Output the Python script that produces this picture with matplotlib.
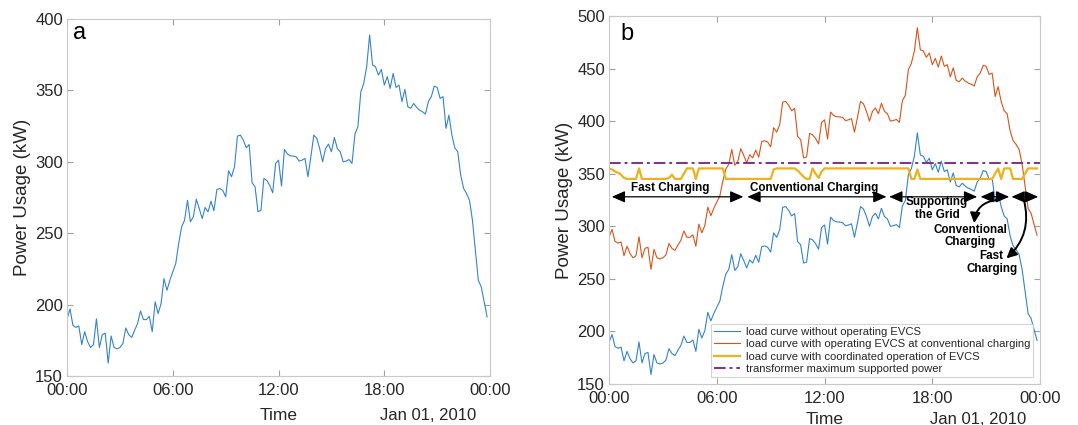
import numpy as np
import matplotlib
matplotlib.use("Agg")
import matplotlib.pyplot as plt

plt.rcParams['font.family'] = ['Liberation Sans', 'DejaVu Sans']

# 10-minute samples over one day (hours from midnight)
hours = np.arange(144) / 6.0

# load curve without operating EVCS (kW)
load_base = [
    190, 197, 185.5, 184, 185, 172, 181, 174, 170, 172,
    190, 170, 179, 180, 159, 178, 170, 169, 170, 172.7,
    183.6, 179, 177, 182, 186.7, 195.6, 189.5, 189.5, 191.8, 181,
    202, 193.7, 200.7, 218.2, 210, 217, 223, 228.7, 242.8, 254.4,
    259, 273, 258, 261.5, 273.8, 267.3, 260.3, 268, 265, 272.4,
    265.7, 280.6, 281.3, 280, 275.5, 293.7, 289.5, 296.5, 318, 318.7,
    315.2, 309.8, 312.1, 285.3, 282.5, 265, 266, 288.3, 287, 283.4,
    278.3, 298.8, 301.2, 283, 308.6, 305.4, 304.2, 304, 303.5, 300.5,
    301.2, 302.3, 289.5, 303.5, 318.7, 316.4, 309.3, 300, 309.3, 312.4,
    307, 317, 309.3, 307, 300, 300.5, 301.6, 298.8, 319.4, 324.5,
    349, 354.9, 366.6, 388.8, 367.8, 366.6, 360.7, 364.7, 353.7, 359.6,
    351.4, 361.9, 352.1, 353.7, 342.1, 350.7, 338.6, 337.4, 340.9, 338.1,
    336.2, 335, 333.4, 342.1, 345.6, 353, 352.1, 344.4, 345.6, 323.4,
    332.7, 318.7, 309.8, 307, 290.7, 281.3, 277.8, 273.1, 259.1, 238.1,
    217, 212.4, 201.9, 191.4,
]

# load curve with EVCS at conventional charging (kW)
load_conv = [
    290, 297, 285.5, 284, 285, 272, 281, 274, 270, 272,
    290, 270, 279, 280, 259, 278, 270, 269, 270, 272.7,
    283.6, 279, 277, 282, 286.7, 295.6, 289.5, 289.5, 291.8, 281,
    302, 293.7, 300.7, 318.2, 310, 317, 323, 328.7, 342.8, 354.4,
    359, 373, 358, 361.5, 373.8, 367.3, 360.3, 368, 365, 372.4,
    365.7, 380.6, 381.3, 380, 375.5, 393.7, 389.5, 396.5, 418, 418.7,
    415.2, 409.8, 412.1, 385.3, 382.5, 365, 366, 388.3, 387, 383.4,
    378.3, 398.8, 401.2, 383, 408.6, 405.4, 404.2, 404, 403.5, 400.5,
    401.2, 402.3, 389.5, 403.5, 418.7, 416.4, 409.3, 400, 409.3, 412.4,
    407, 417, 409.3, 407, 400, 400.5, 401.6, 398.8, 419.4, 424.5,
    449, 454.9, 466.6, 488.8, 467.8, 466.6, 460.7, 464.7, 453.7, 459.6,
    451.4, 461.9, 452.1, 453.7, 442.1, 450.7, 438.6, 437.4, 440.9, 438.1,
    436.2, 435, 433.4, 442.1, 445.6, 453, 452.1, 444.4, 445.6, 423.4,
    432.7, 418.7, 409.8, 407, 390.7, 381.3, 377.8, 373.1, 359.1, 338.1,
    317, 312.4, 301.9, 291.4,
]

# load curve with coordinated operation of EVCS (kW)
load_coord = [
    355, 354, 352, 351, 349, 346, 345, 345, 345, 345,
    355, 345, 345, 345, 345, 345, 345, 345, 345, 345,
    346, 349, 345, 345, 345, 350, 355, 355, 355, 345,
    355, 355, 355, 355, 355, 355, 355, 355, 355, 345,
    345, 345, 345, 345, 345, 345, 345, 345, 345, 345,
    345, 345, 345, 345, 345, 354, 355, 355, 355, 355,
    355, 355, 355, 353, 350, 347, 345, 345, 355, 350,
    346, 352, 355, 355, 355, 355, 355, 355, 355, 355,
    355, 355, 355, 355, 355, 355, 355, 355, 355, 355,
    355, 355, 355, 355, 355, 355, 355, 355, 355, 355,
    355, 345, 345, 354, 345, 345, 345, 345, 345, 345,
    345, 345, 345, 345, 345, 345, 345, 345, 345, 345,
    345, 345, 345, 345, 345, 345, 345, 345, 345, 350,
    355, 345, 355, 355, 355, 345, 345, 345, 345, 350,
    355, 355, 355, 355,
]

transformer_max = 360

xticks = [0, 6, 12, 18, 24]
xtick_labels = ['00:00', '06:00', '12:00', '18:00', '00:00']

# operating modes: (start h, end h)
mode_spans = [(0.15, 7.48), (7.7, 15.45), (15.6, 20.5), (20.69, 22.28), (22.41, 23.9)]

legend_labels = [
    'load curve without operating EVCS',
    'load curve with operating EVCS at conventional charging',
    'load curve with coordinated operation of EVCS',
    'transformer maximum supported power',
]

c_blue = '#3483cc'
c_orange = '#d95319'
c_yellow = '#edb120'
c_purple = '#7e2f8e'
frame_col = '#c8c8c8'
text_col = '#262626'


def style_axes(ax, ylim, yticks, below_pt):
    ax.set_xlim(0, 24)
    ax.set_ylim(*ylim)
    ax.set_xticks(xticks)
    ax.set_xticklabels(xtick_labels)
    ax.set_yticks(yticks)
    ax.tick_params(direction='in', top=True, right=True, length=4,
                   color='#a0a0a0', labelcolor=text_col, labelsize=12)
    ax.tick_params(axis='x', pad=5)
    ax.tick_params(axis='y', pad=3)
    for s in ax.spines.values():
        s.set_color(frame_col)
        s.set_linewidth(0.8)
    ax.set_ylabel('Power Usage (kW)', fontsize=13.5, color=text_col, labelpad=3)
    # x label and date stamp sit on the same line below the tick labels
    ax.annotate('Time', xy=(0.5, 0), xycoords='axes fraction',
                xytext=(0, -below_pt), textcoords='offset points',
                ha='center', va='center', fontsize=12.5, color=text_col)
    ax.annotate('Jan 01, 2010', xy=(1.0, 0), xycoords='axes fraction',
                xytext=(-10, -below_pt), textcoords='offset points',
                ha='right', va='center', fontsize=12, color=text_col)


fig = plt.figure(figsize=(10.78, 4.25), dpi=100)

# panel a
ax1 = fig.add_axes([0.0622, 0.1153, 0.3924, 0.84])
ax1.plot(hours, load_base, color=c_blue, lw=0.8)
style_axes(ax1, (150, 400), [150, 200, 250, 300, 350, 400], 28.5)
ax1.text(0.015, 0.944, 'a', transform=ax1.transAxes, fontsize=17,
         va='baseline', ha='left')

# panel b
ax2 = fig.add_axes([0.565, 0.0965, 0.3998, 0.866])
ax2.plot(hours, load_base, color=c_blue, lw=0.8, label=legend_labels[0])
ax2.plot(hours, load_conv, color=c_orange, lw=0.8, label=legend_labels[1])
ax2.plot(hours, load_coord, color=c_yellow, lw=1.6, label=legend_labels[2])
ax2.axhline(transformer_max, color=c_purple, lw=1.4, ls='-.', dashes=(6, 2, 1.5, 2),
            label=legend_labels[3])
style_axes(ax2, (150, 500), [150, 200, 250, 300, 350, 400, 450, 500], 25.5)
ax2.text(0.027, 0.935, 'b', transform=ax2.transAxes, fontsize=17,
         va='baseline', ha='left')

arrow_y = 328
for a, b in mode_spans:
    ax2.annotate('', xy=(b, arrow_y), xytext=(a, arrow_y),
                 arrowprops=dict(arrowstyle='<|-|>,head_width=0.35,head_length=0.8',
                                 color='black', lw=0.9, shrinkA=0, shrinkB=0))

tkw = dict(fontsize=8.4, fontweight='bold', ha='center', va='center', color='black',
           linespacing=1.05)
ax2.text(3.4, 336.5, 'Fast Charging', **tkw)
ax2.text(11.4, 336.5, 'Conventional Charging', **tkw)
ax2.text(18.27, 317, 'Supporting\nthe Grid', **tkw)
ax2.text(20.1, 290.5, 'Conventional\nCharging', **tkw)
ax2.text(21.3, 265.5, 'Fast\nCharging', **tkw)

ax2.annotate('', xy=(20.33, 303), xytext=(21.6, 325),
             arrowprops=dict(arrowstyle='-|>,head_width=0.3,head_length=0.6',
                             color='black', lw=1.4, connectionstyle='arc3,rad=0.4',
                             shrinkA=0, shrinkB=0))
ax2.annotate('', xy=(22.13, 269.5), xytext=(23.1, 325),
             arrowprops=dict(arrowstyle='-|>,head_width=0.3,head_length=0.6',
                             color='black', lw=1.4, connectionstyle='arc3,rad=-0.3',
                             shrinkA=0, shrinkB=0))

leg = ax2.legend(loc='lower right', fontsize=8.1, frameon=True, fancybox=False,
                 handlelength=2.3, labelspacing=0.2, borderpad=0.3,
                 borderaxespad=0.6, handletextpad=0.5)
leg.get_frame().set_edgecolor(frame_col)
leg.get_frame().set_linewidth(0.8)
for t in leg.get_texts():
    t.set_color(text_col)

fig.savefig('out.png', dpi=100)
